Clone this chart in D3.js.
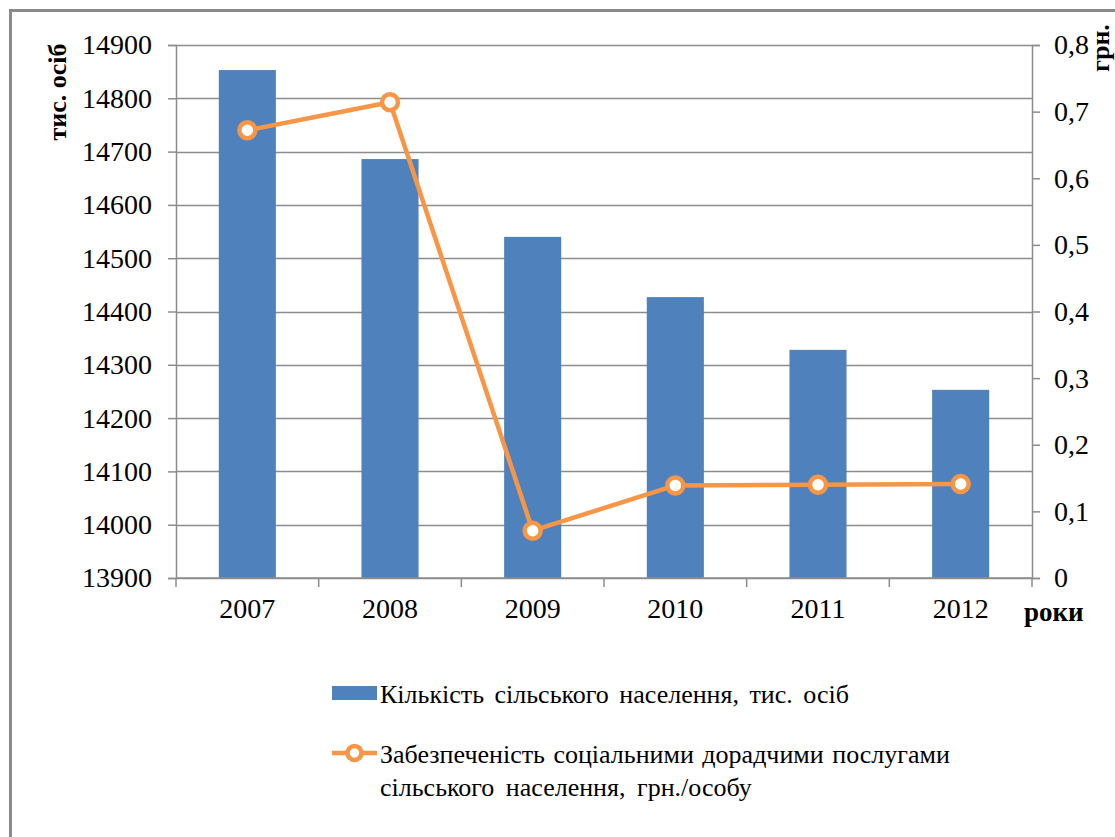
<!DOCTYPE html>
<html>
<head>
<meta charset="utf-8">
<script src="https://cdn.jsdelivr.net/npm/d3@7"></script>
<style>
  body { margin: 0; background: #fff; }
</style>
</head>
<body>
<script>
// дані
const years = ["2007", "2008", "2009", "2010", "2011", "2012"];
const population = [14853, 14686, 14540, 14427, 14328, 14253];
const services = [0.672, 0.714, 0.071, 0.139, 0.140, 0.141];
const leftTicks = [13900, 14000, 14100, 14200, 14300, 14400, 14500, 14600, 14700, 14800, 14900];
const rightTicks = [0, 0.1, 0.2, 0.3, 0.4, 0.5, 0.6, 0.7, 0.8];

const W = 1115, H = 837;
const pLeft = 176, pRight = 1032, pTop = 45, pBottom = 578;
const blue = "#4F81BD", orange = "#F79646", grid = "#8c8c8c";
const serifFont = "Liberation Serif";

const svg = d3.select("body")
  .append("svg")
  .attr("width", W)
  .attr("height", H);

// рамка
svg.append("rect")
  .attr("x", 10.5).attr("y", 10.5)
  .attr("width", W + 20).attr("height", H + 20)
  .attr("fill", "none")
  .attr("stroke", "#8a8a8a")
  .attr("stroke-width", 3);

const x = d3.scaleBand().domain(years).range([pLeft, pRight]).paddingInner(0.6).paddingOuter(0.3);
const xb = d3.scaleBand().domain(years).range([pLeft, pRight]);
const yL = d3.scaleLinear().domain([13900, 14900]).range([pBottom, pTop]);
const yR = d3.scaleLinear().domain([0, 0.8]).range([pBottom, pTop]);

// сітка
svg.append("g")
  .selectAll("line")
  .data(leftTicks)
  .join("line")
  .attr("x1", pLeft).attr("x2", pRight)
  .attr("y1", d => Math.round(yL(d)) + 0.5)
  .attr("y2", d => Math.round(yL(d)) + 0.5)
  .attr("stroke", grid)
  .attr("stroke-width", 1.5);

// стовпці
svg.append("g")
  .selectAll("rect")
  .data(population)
  .join("rect")
  .attr("x", (d, i) => x(years[i]))
  .attr("width", x.bandwidth())
  .attr("y", d => yL(d))
  .attr("height", d => pBottom - yL(d))
  .attr("fill", blue);

// ліва вісь
const axL = svg.append("g")
  .attr("transform", `translate(${pLeft},0)`)
  .call(d3.axisLeft(yL).tickValues(leftTicks).tickSize(8).tickPadding(16).tickFormat(d3.format("d")));

// права вісь
const axR = svg.append("g")
  .attr("transform", `translate(${pRight},0)`)
  .call(d3.axisRight(yR).tickValues(rightTicks).tickSize(8).tickPadding(14)
    .tickFormat(d => d === 0 ? "0" : d3.format(".1f")(d).replace(".", ",")));

// нижня вісь
const axB = svg.append("g")
  .attr("transform", `translate(0,${pBottom})`)
  .call(d3.axisBottom(xb).tickSize(0).tickPadding(20));

svg.append("g")
  .selectAll("line")
  .data(years.concat(["end"]))
  .join("line")
  .attr("x1", (d, i) => pLeft + i * xb.step())
  .attr("x2", (d, i) => pLeft + i * xb.step())
  .attr("y1", pBottom).attr("y2", pBottom + 9)
  .attr("stroke", grid)
  .attr("stroke-width", 1.5);

[axL, axR, axB].forEach(g => {
  g.attr("font-family", serifFont).attr("font-size", 28);
  g.select(".domain").attr("stroke", grid).attr("stroke-width", 1.5);
  g.selectAll(".tick line").attr("stroke", grid).attr("stroke-width", 1.5);
  g.selectAll(".tick text").attr("fill", "#000");
});
axB.select(".domain").attr("d", `M${pLeft},0H${pRight}`);

// лінія
const line = d3.line()
  .x((d, i) => xb(years[i]) + xb.bandwidth() / 2)
  .y(d => yR(d));

svg.append("path")
  .datum(services)
  .attr("d", line)
  .attr("fill", "none")
  .attr("stroke", orange)
  .attr("stroke-width", 4.5)
  .attr("stroke-linejoin", "round");

svg.append("g")
  .selectAll("circle")
  .data(services)
  .join("circle")
  .attr("cx", (d, i) => xb(years[i]) + xb.bandwidth() / 2)
  .attr("cy", d => yR(d))
  .attr("r", 8)
  .attr("fill", "#fff")
  .attr("stroke", orange)
  .attr("stroke-width", 4.5);

// підписи осей
const labels = svg.append("g").attr("font-family", serifFont);

labels.append("text")
  .attr("transform", "translate(66,92) rotate(-90)")
  .attr("text-anchor", "middle")
  .attr("font-size", 26)
  .attr("font-weight", "bold")
  .text("тис. осіб");

labels.append("text")
  .attr("transform", "translate(1109,48) rotate(-90)")
  .attr("text-anchor", "middle")
  .attr("font-size", 26)
  .attr("font-weight", "bold")
  .text("грн.");

labels.append("text")
  .attr("x", 1024).attr("y", 621)
  .attr("font-size", 27)
  .attr("font-weight", "bold")
  .text("роки");

// легенда
const legend = svg.append("g").attr("font-family", serifFont).attr("font-size", 26);

legend.append("rect")
  .attr("x", 332).attr("y", 686)
  .attr("width", 45).attr("height", 14)
  .attr("fill", blue);

legend.append("text")
  .attr("x", 380).attr("y", 703)
  .attr("word-spacing", 4)
  .text("Кількість сільського населення, тис. осіб");

legend.append("line")
  .attr("x1", 332).attr("x2", 377)
  .attr("y1", 753).attr("y2", 753)
  .attr("stroke", orange)
  .attr("stroke-width", 4.5);
legend.append("circle")
  .attr("cx", 354.5).attr("cy", 753).attr("r", 7)
  .attr("fill", "#fff")
  .attr("stroke", orange)
  .attr("stroke-width", 4.5);

legend.append("text")
  .attr("x", 380).attr("y", 763)
  .attr("word-spacing", 2)
  .text("Забезпеченість соціальними дорадчими послугами");

legend.append("text")
  .attr("x", 380).attr("y", 796)
  .attr("word-spacing", 5)
  .text("сільського населення, грн./особу");
</script>
</body>
</html>
